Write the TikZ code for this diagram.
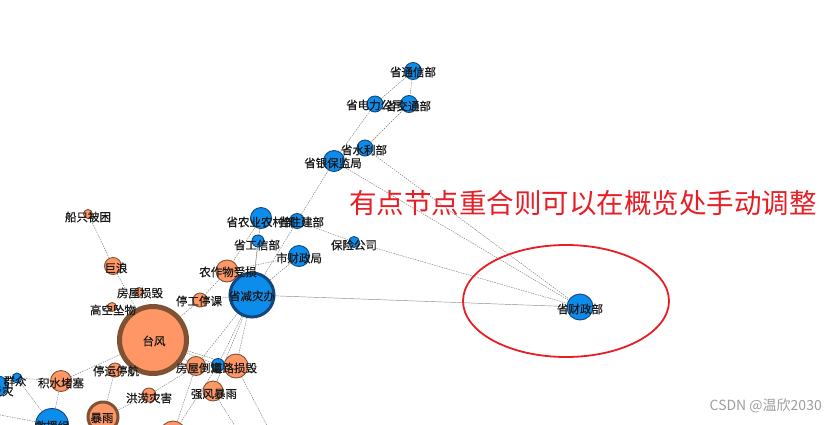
\documentclass[tikz,border=0pt]{standalone}
\usepackage{fontspec}
\newfontfamily\cjk{Noto Sans CJK SC}
\newfontfamily\cjklbl{Noto Sans CJK SC}[FakeBold=0.6]
\usetikzlibrary{
    backgrounds
}
\pgfdeclarelayer{labels}
\pgfsetlayers{background,main,labels}

\definecolor{gblue}{RGB}{12,140,235}
\definecolor{gblueline}{RGB}{20,70,125}
\definecolor{gorange}{RGB}{255,150,102}
\definecolor{gbrown}{RGB}{128,82,52}
\definecolor{noteRed}{RGB}{232,30,38}

\begin{document}
\begin{tikzpicture}[
    x=1pt, y=-1pt,
    font=\cjklbl\fontsize{11.5}{12}\selectfont,
    vert/.style={
        circle,
        draw,
        inner sep=0pt,
        line width=0.9pt
    },
    bvert/.style={vert, fill=gblue, draw=gblueline},
    overt/.style={vert, fill=gorange, draw=gbrown},
    lbl/.style={inner sep=0pt, text=black!90},
    edge/.style={black!55, line width=0.4pt, dash pattern=on 1.5pt off 1pt}
]

\clip (0,0) rectangle (838,424);

\newcommand{\vertex}[6]{%
    \node[#2, minimum size={2*#4}] (#1) at #3 {};
    \begin{pgfonlayer}{labels}
    \node[lbl] (#1-t) at #6 {#5};
    \end{pgfonlayer}
}

% ============================================================
% BLUE VERTICES (agencies)
% ============================================================

\vertex{tongxin}{bvert}{(413,71)}{8.5}{省通信部}{(413,72)}
\vertex{dianli}{bvert}{(375,104)}{8}{省电力公司}{(375,105)}
\vertex{jiaotong}{bvert}{(409,104)}{8.5}{省交通部}{(408,106)}
\vertex{shuili}{bvert}{(365,148)}{8}{省水利部}{(364,150)}
\vertex{yinbao}{bvert}{(334,161)}{10.5}{省银保监局}{(333,163)}
\vertex{nongye}{bvert}{(261,218)}{10.5}{省农业农村部}{(261,222)}
\vertex{zhujian}{bvert}{(297,221)}{7.5}{省住建部}{(301,222)}
\vertex{gongxin}{bvert}{(258,241)}{6}{省工信部}{(257,245)}
\vertex{baoxian}{bvert}{(354,242)}{5.5}{保险公司}{(354,245)}
\vertex{shicz}{bvert}{(299,256)}{10.5}{市财政局}{(299,258)}
\vertex{caizheng}{bvert}{(580,307)}{13}{省财政部}{(580,309)}
\vertex{xiaolan}{bvert}{(218,365)}{6.5}{}{(218,365)}
\vertex{qunzhong}{bvert}{(17,378)}{5}{群众}{(15,381)}
\vertex{shouzai}{bvert}{(-2,386)}{10}{受灾}{(2,391)}
\vertex{jiuyuan}{bvert}{(52,425)}{16.5}{救援组}{(52,426)}

\node[bvert, minimum size=44, line width=3pt] (jianzai) at (252,295) {};
\begin{pgfonlayer}{labels}
\node[lbl] (jianzai-t) at (252,296) {省减灾办};
\end{pgfonlayer}

% ============================================================
% ORANGE VERTICES (events)
% ============================================================

\vertex{chuanzhi}{overt}{(88,214)}{4.5}{船只被困}{(88,217)}
\vertex{julang}{overt}{(113,266)}{8.5}{巨浪}{(116,268)}
\vertex{sunhui}{overt}{(139,292)}{4.5}{房屋损毁}{(140,293)}
\vertex{gaokong}{overt}{(112,307)}{4.5}{高空坠物}{(113,310)}
\vertex{nongzuowu}{overt}{(227,271)}{11}{农作物受损}{(228,272)}
\vertex{tinggong}{overt}{(200,300)}{7}{停工停课}{(199,301)}
\vertex{tingyun}{overt}{(115,370)}{7}{停运停航}{(116,371)}
\vertex{jishui}{overt}{(61,381)}{10.5}{积水堵塞}{(61,383)}
\vertex{honglao}{overt}{(149,395)}{7}{洪涝灾害}{(149,398)}
\vertex{daota}{overt}{(196,366)}{9.5}{房屋倒塌}{(199,368)}
\vertex{daolu}{overt}{(236,366)}{12}{道路损毁}{(234,368)}
\vertex{qiangfeng}{overt}{(213,391)}{10}{强风暴雨}{(214,394)}
\vertex{xiacheng}{overt}{(173,434)}{13}{}{(173,434)}

\node[overt, minimum size=30, line width=3pt] (baoyu) at (103,417) {};
\node[overt, minimum size=67, line width=5pt] (taifeng) at (153,340) {};
\begin{pgfonlayer}{labels}
\node[lbl] (baoyu-t) at (102,418) {暴雨};
\node[lbl] (taifeng-t) at (154,341) {台风};
\end{pgfonlayer}

\coordinate (offA) at (250,450);
\coordinate (offB) at (285,460);
\coordinate (offW) at (-20,411);

% ============================================================
% EDGES
% ============================================================

\begin{scope}[on background layer]
\fill[white] (0,0) rectangle (838,424);
\foreach \a/\b in {tongxin/dianli, tongxin/jiaotong, jiaotong/shuili,
    dianli/yinbao, yinbao/caizheng, shuili/caizheng, yinbao/jianzai,
    nongye/zhujian, zhujian/baoxian, baoxian/caizheng, nongye/nongzuowu,
    nongye/jianzai, gongxin/jianzai, shicz/jianzai, nongzuowu/shicz,
    nongzuowu/jianzai, nongzuowu/tinggong, tinggong/jianzai,
    tinggong/taifeng, chuanzhi/julang, julang/taifeng, taifeng/jishui,
    taifeng/daota, taifeng/xiaolan, taifeng/daolu, tingyun/baoyu,
    honglao/baoyu, honglao/daota, jianzai/daota, jianzai/xiaolan,
    jianzai/daolu, jianzai/qiangfeng, daota/xiacheng, xiaolan/xiacheng,
    qiangfeng/offA, daolu/offB, jishui/qunzhong, jishui/jiuyuan,
    qunzhong/jiuyuan, offW/jiuyuan} {
    \draw[edge] (\a) -- (\b);
}
\draw[black!45, line width=0.45pt] (jianzai) -- (caizheng);
\end{scope}

% ============================================================
% NOTE
% ============================================================

\draw[noteRed, line width=1.8pt] (566,301) ellipse [x radius=103, y radius=56];

\node[text=noteRed, font=\cjk\fontsize{27.5}{30}\selectfont, anchor=west,
    inner sep=0pt] (note) at (349,203) {有点节点重合则可以在概览处手动调整};

\node[text=gray!75, font=\cjk\fontsize{14}{16}\selectfont, anchor=east,
    inner sep=0pt] (mark) at (822,406) {CSDN @温欣2030};

\end{tikzpicture}
\end{document}
